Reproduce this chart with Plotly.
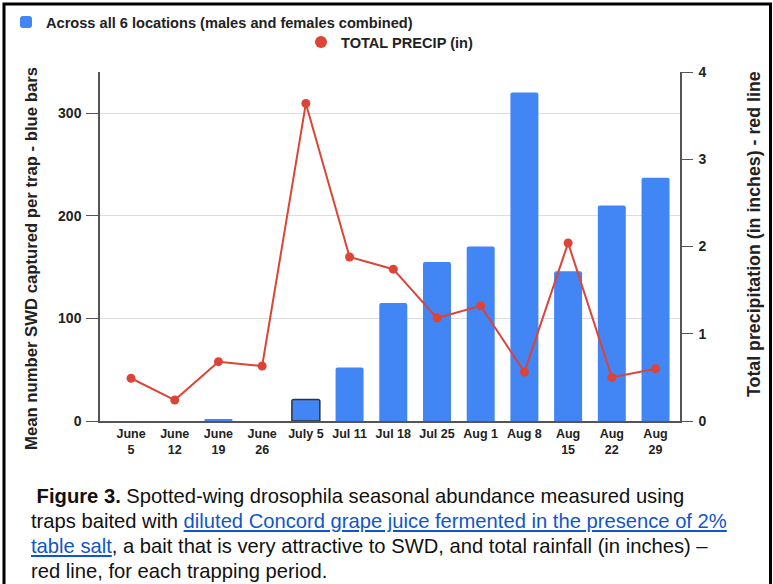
import plotly.graph_objects as go

dates = ["June<br>5", "June<br>12", "June<br>19", "June<br>26", "July 5", "Jul 11", "Jul 18",
         "Jul 25", "Aug 1", "Aug 8", "Aug<br>15", "Aug<br>22", "Aug<br>29"]
swd_mean = [0, 0, 1, 0, 21, 52, 115, 155, 170, 320, 146, 210, 237]
precip_in = [0.49, 0.24, 0.68, 0.63, 3.64, 1.88, 1.74, 1.18, 1.32, 0.56, 2.04, 0.50, 0.60]

bar_name = "Across all 6 locations (males and females combined)"
line_name = "TOTAL PRECIP (in)"
left_title = "Mean number SWD captured per trap - blue bars"
right_title = "Total precipitation (in inches) - red line"
caption_lines = [
    " <b>Figure 3.</b> Spotted-wing drosophila seasonal abundance measured using",
    "traps baited with <span style='color:#1155cc'><u>diluted Concord grape juice fermented in the presence of 2%</u></span>",
    "<span style='color:#1155cc'><u>table salt</u></span>, a bait that is very attractive to SWD, and total rainfall (in inches) \u2013",
    "red line, for each trapping period.",
]

BLUE = "#4285f4"
RED = "#db4437"
FONT = "Liberation Sans, Arial, sans-serif"

W, H = 773, 584
L, R, T, B = 100, 93, 72, 163
PW, PH = W - L - R, H - T - B


def px(x):
    return (x - L) / PW


def py(y):
    return (H - B - y) / PH


fig = go.Figure()
fig.add_trace(go.Bar(
    x=dates, y=swd_mean, name=bar_name, marker_color=BLUE,
    marker_line_color=["#333333" if i == 4 else BLUE for i in range(len(dates))],
    marker_line_width=[1.5 if i == 4 else 0 for i in range(len(dates))],
    marker_cornerradius=2, legend="legend", showlegend=True,
))
fig.add_trace(go.Scatter(
    x=dates, y=precip_in, name=line_name, mode="lines+markers", yaxis="y2",
    line=dict(color=RED, width=2), marker=dict(color=RED, size=9), showlegend=False,
))
fig.add_trace(go.Scatter(
    x=[None], y=[None], name=line_name, mode="markers", yaxis="y2",
    marker=dict(color=RED, size=12), legend="legend2", showlegend=True,
))

ax_col = "#555555"
tick_font = dict(size=14, weight="bold", color="#222")
fig.update_layout(
    width=W, height=H,
    margin=dict(l=L, r=R, t=T, b=B, autoexpand=False),
    paper_bgcolor="white", plot_bgcolor="white",
    font=dict(family=FONT, color="#222222"),
    bargap=0.36,
    xaxis=dict(type="category", range=[-0.71, 12.56], showline=True, linecolor=ax_col, linewidth=1.5,
               ticks="", tickfont=dict(size=12.5, weight="bold", color="#222"), showgrid=False,
               zeroline=False, automargin=False, tickangle=0),
    yaxis=dict(range=[0, 340], tickvals=[0, 100, 200, 300], showline=True, linecolor=ax_col, linewidth=1.5,
               ticks="outside", ticklen=12, tickcolor=ax_col, tickwidth=1.2, tickfont=tick_font,
               ticklabelstandoff=2,
               showgrid=True, gridcolor="#dddddd", gridwidth=1, zeroline=False, automargin=False),
    yaxis2=dict(range=[0, 4], tickvals=[0, 1, 2, 3, 4], overlaying="y", side="right", showline=True,
                linecolor=ax_col, linewidth=1.5, ticks="outside", ticklen=11, tickcolor=ax_col, tickwidth=1.2,
                tickfont=tick_font, ticklabelstandoff=3, showgrid=False, zeroline=False, automargin=False),
    legend=dict(x=px(6), y=py(22), xanchor="left", yanchor="middle", orientation="h",
                font=dict(size=14.6, weight="bold", color="#222"), bgcolor="rgba(0,0,0,0)"),
    legend2=dict(x=px(301), y=py(42), xanchor="left", yanchor="middle", orientation="h",
                 font=dict(size=14.6, weight="bold", color="#222"), bgcolor="rgba(0,0,0,0)"),
    showlegend=True,
)

annots = [
    dict(text=left_title, textangle=-90, x=px(31), y=py(259), xref="paper", yref="paper",
         showarrow=False, font=dict(size=16.7, weight="bold", color="#222"), xanchor="center", yanchor="middle"),
    dict(text=right_title, textangle=-90, x=px(754), y=py(234), xref="paper", yref="paper",
         showarrow=False, font=dict(size=17.8, weight="bold", color="#222"), xanchor="center", yanchor="middle"),
]
for i, line in enumerate(caption_lines):
    annots.append(dict(text=line, x=px(29), y=py(496 + 25 * i), xref="paper", yref="paper",
                       showarrow=False, xanchor="left", yanchor="middle", align="left",
                       font=dict(size=20.2, color="#111", family=FONT)))
fig.update_layout(annotations=annots)

fig.add_shape(type="rect", xref="paper", yref="paper", x0=px(4), x1=px(770.5), y0=py(600), y1=py(4),
              line=dict(color="black", width=3), fillcolor="rgba(0,0,0,0)", layer="above")

fig.write_html("out.html", config={"displayModeBar": False},
               post_script="document.body.style.margin='0';document.body.style.overflow='hidden';")
